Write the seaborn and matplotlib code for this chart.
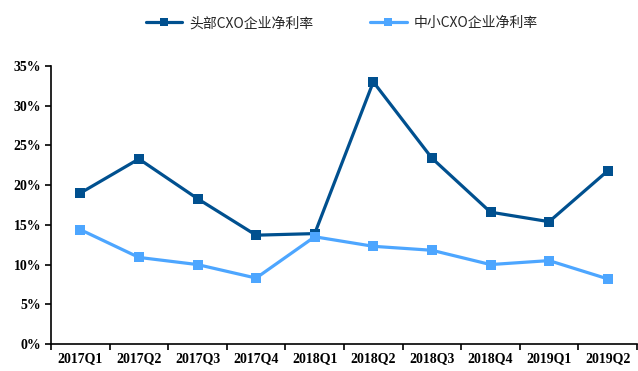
import numpy as np
import pandas as pd
import matplotlib
matplotlib.use("Agg")
import matplotlib.pyplot as plt
import seaborn as sns
from matplotlib.ticker import FixedLocator, PercentFormatter

quarters = ["2017Q1", "2017Q2", "2017Q3", "2017Q4", "2018Q1",
            "2018Q2", "2018Q3", "2018Q4", "2019Q1", "2019Q2"]
leading_cxo = [19.0, 23.3, 18.3, 13.7, 13.9, 33.0, 23.4, 16.6, 15.4, 21.8]
small_mid_cxo = [14.4, 10.9, 10.0, 8.3, 13.5, 12.3, 11.8, 10.0, 10.5, 8.2]
series_names = ["头部CXO企业净利率", "中小CXO企业净利率"]
colors = ["#00508f", "#4da6ff"]

sns.set_theme(style="white")
plt.rcParams["font.family"] = ["Liberation Serif", "Noto Sans CJK SC"]

df = pd.DataFrame({
    "quarter": quarters * 2,
    "x": list(range(len(quarters))) * 2,
    "value": leading_cxo + small_mid_cxo,
    "series": [series_names[0]] * len(quarters) + [series_names[1]] * len(quarters),
})

fig = plt.figure(figsize=(6.38, 3.71), dpi=100)
ax = fig.add_axes([51 / 638, 27 / 371, 586 / 638, 278 / 371])

sns.lineplot(data=df, x="x", y="value", hue="series", hue_order=series_names,
             palette=colors, marker="s", markersize=6.5, markeredgewidth=0,
             linewidth=2.3, ax=ax, legend=True)

ax.set_xlim(-0.5, len(quarters) - 0.5)
ax.set_ylim(0, 35)
ax.yaxis.set_major_locator(FixedLocator(np.arange(0, 36, 5)))
ax.yaxis.set_major_formatter(PercentFormatter(decimals=0))

ax.xaxis.set_major_locator(FixedLocator(np.arange(-0.5, len(quarters), 1.0)))
ax.xaxis.set_minor_locator(FixedLocator(np.arange(len(quarters))))
ax.set_xticklabels([], minor=False)
ax.set_xticklabels(quarters, minor=True)
ax.tick_params(axis="x", which="major", direction="out", length=4, width=1.2,
               bottom=True, color="black")
ax.tick_params(axis="x", which="minor", length=0, pad=6)
ax.tick_params(axis="y", direction="out", length=4, width=1.2, left=True,
               color="black", pad=3)
for lbl in ax.get_xticklabels(minor=True) + ax.get_yticklabels():
    lbl.set_fontweight("bold")
    lbl.set_fontsize(10)
    lbl.set_color("black")

ax.set_xlabel("")
ax.set_ylabel("")
for side in ["top", "right"]:
    ax.spines[side].set_visible(False)
for side in ["left", "bottom"]:
    ax.spines[side].set_color("black")
    ax.spines[side].set_linewidth(1.2)

handles, labels = ax.get_legend_handles_labels()
for h in handles:
    h.set_markersize(5.5)
leg = fig.legend(handles, labels, loc="upper center", bbox_to_anchor=(0.536, 0.99),
                 ncol=2, frameon=False, handlelength=2.6, handletextpad=0.5,
                 columnspacing=4.1,
                 prop={"family": ["Noto Sans CJK SC"], "size": 10})
ax.legend_.remove()

fig.savefig("out.png", dpi=100)
